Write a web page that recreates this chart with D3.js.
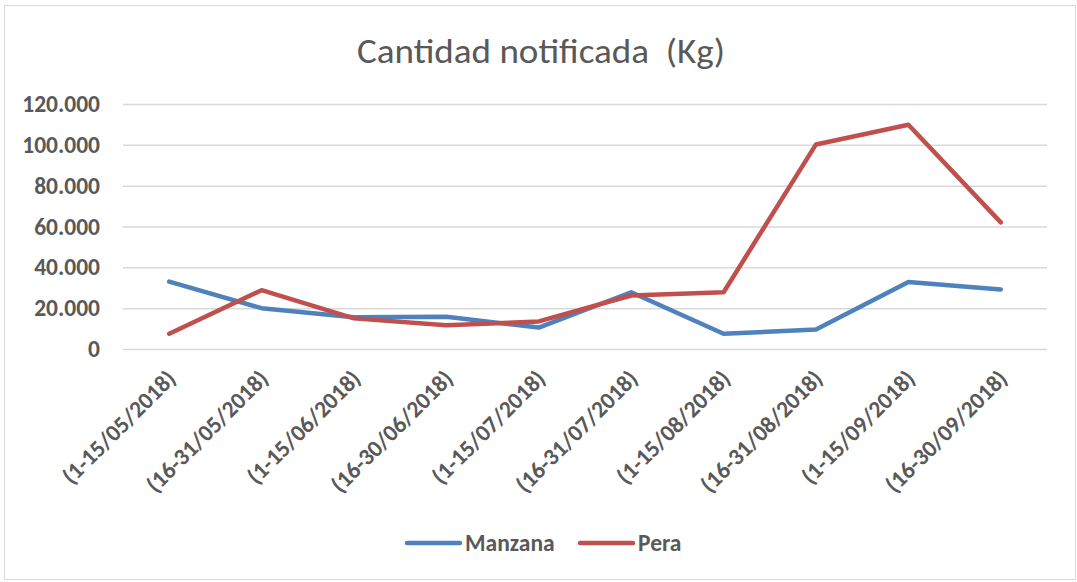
<!DOCTYPE html>
<html><head><meta charset="utf-8">
<script src="https://cdn.jsdelivr.net/npm/d3@7"></script>
<style>body{margin:0;background:#fff}svg{display:block}</style>
</head><body>
<svg id="c" width="1077" height="582"></svg>
<script>
const categories = ["(1-15/05/2018)","(16-31/05/2018)","(1-15/06/2018)","(16-30/06/2018)","(1-15/07/2018)","(16-31/07/2018)","(1-15/08/2018)","(16-31/08/2018)","(1-15/09/2018)","(16-30/09/2018)"];
const manzana = [33000, 20000, 15500, 15800, 10500, 27800, 7500, 9500, 32800, 29200];
const pera = [7500, 28800, 15000, 11600, 13500, 26200, 27800, 100200, 109800, 62000];
const yTicks = [0, 20000, 40000, 60000, 80000, 100000, 120000];
const seriesNames = ["Manzana", "Pera"];
const colors = ["#4f81bd", "#c0504d"];
const title = "Cantidad notificada  (Kg)";

const svg = d3.select("#c");
const font = "Carlito, 'Open Sans', sans-serif";
const txt = "#595959";

svg.append("rect").attr("x",4.5).attr("y",5.5).attr("width",1071).attr("height",574)
  .attr("fill","#fff").attr("stroke","#d9d9d9").attr("stroke-width",1);

const x = d3.scaleBand().domain(categories).range([123, 1047]);
const y = d3.scaleLinear().domain([0, 120000]).range([349, 104]);

svg.append("text").attr("x", 357).attr("y", 63).attr("text-anchor","start")
  .attr("font-family", font).attr("font-size", 35).attr("fill", txt)
  .attr("textLength", 368).attr("lengthAdjust", "spacingAndGlyphs")
  .style("white-space","pre").text(title);

const fmt = v => d3.format(",")(v).replace(/,/g, ".");
const yAxis = d3.axisLeft(y).tickValues(yTicks).tickSize(-(1047-123)).tickFormat(fmt).tickPadding(23);
const gy = svg.append("g").attr("transform","translate(123,0)").call(yAxis);
gy.select(".domain").remove();
gy.selectAll(".tick line").attr("stroke","#d9d9d9").attr("stroke-width",1.5);
gy.selectAll(".tick text").attr("font-family", font).attr("font-size", 23.5).attr("font-weight","bold").attr("fill", txt);

const xAxis = d3.axisBottom(x).tickSize(0).tickPadding(0);
const gx = svg.append("g").attr("transform","translate(0,349)").call(xAxis);
gx.select(".domain").remove();
gx.selectAll(".tick text")
  .attr("font-family", font).attr("font-size", 23.5).attr("font-weight","bold").attr("fill", txt)
  .attr("text-anchor","end").attr("dy",0).attr("y",0)
  .attr("transform","translate(8,31) rotate(-45)");

const line = d3.line().x((d,i) => x(categories[i]) + x.bandwidth()/2).y(d => y(d));
[manzana, pera].forEach((s, k) => {
  svg.append("path").datum(s).attr("d", line).attr("fill","none")
    .attr("stroke", colors[k]).attr("stroke-width", 4.5)
    .attr("stroke-linejoin","round").attr("stroke-linecap","round");
});

const legX = [407, 580];
seriesNames.forEach((n, k) => {
  const g = svg.append("g");
  g.append("line").attr("x1", legX[k]).attr("x2", legX[k] + 53).attr("y1", 543).attr("y2", 543)
    .attr("stroke", colors[k]).attr("stroke-width", 4.5).attr("stroke-linecap","round");
  g.append("text").attr("x", legX[k] + 58).attr("y", 551).attr("font-family", font)
    .attr("font-size", 23.5).attr("font-weight","bold").attr("fill", txt).text(n);
});
</script>
</body></html>
